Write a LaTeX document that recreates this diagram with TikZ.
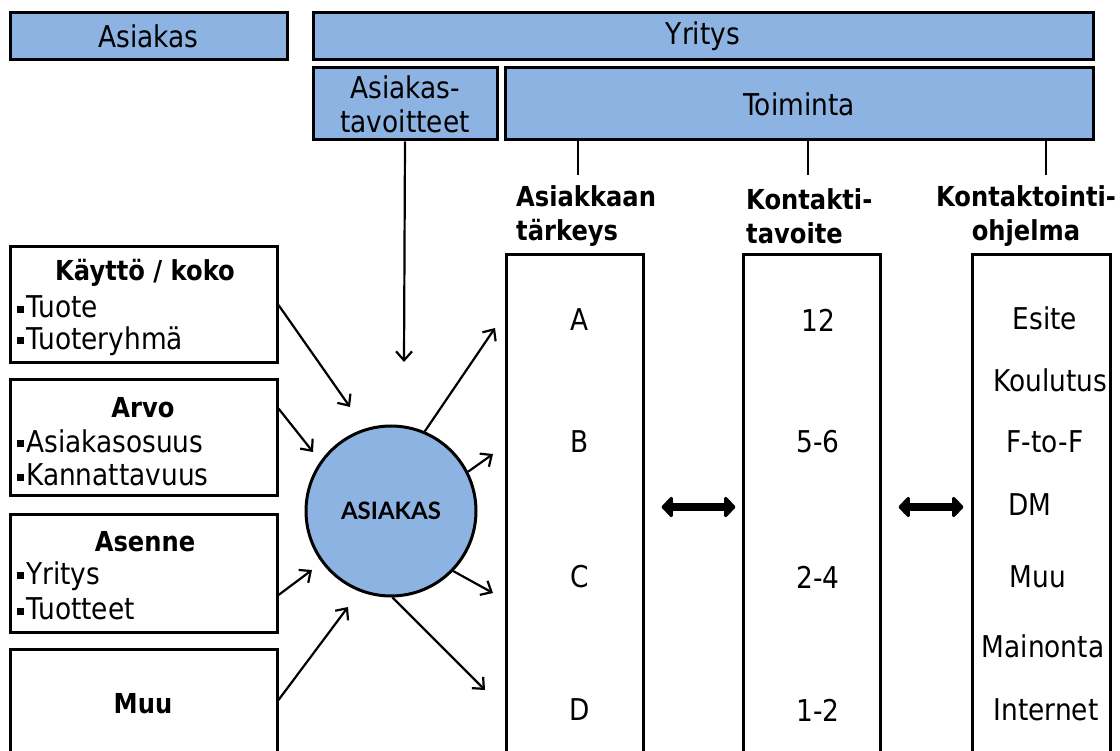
\documentclass[tikz,border=0pt]{standalone}
\usepackage{fontspec}
\setmainfont{DejaVu Sans}[FakeStretch=0.88]
\newfontfamily\circfont{Lato}
\usetikzlibrary{arrows.meta}
\definecolor{boxblue}{HTML}{8DB3E2}
\newcommand\myfs{\fontsize{30}{34}\selectfont}
\newcommand\mybfs{\fontsize{27.5}{34}\selectfont\bfseries}
\newcommand\bul{\rule[5pt]{7pt}{7pt}\hspace{2pt}}
\tikzset{
  hbox/.style={draw, line width=3pt, fill=boxblue, inner sep=0pt, font=\myfs},
  wbox/.style={draw, line width=3pt, fill=white, inner sep=0pt},
  txt/.style={inner sep=0pt, font=\myfs},
  btxt/.style={inner sep=0pt, font=\mybfs},
  arr/.style={line width=2.2pt, -{Straight Barb[length=9pt,width=16pt,line width=2.2pt]}},
  tick/.style={line width=2.2pt},
  dbl/.style={line width=8pt, {Triangle[length=12pt,width=24pt,round]}-{Triangle[length=12pt,width=24pt,round]}}
}
\begin{document}
\begin{tikzpicture}[x=1pt,y=-1pt]
\useasboundingbox (0,0) rectangle (1120,751);
% header boxes
\node[hbox, minimum width=277pt, minimum height=47pt] (asi) at (148.5,36.5) {Asiakas};
\node[hbox, minimum width=780pt, minimum height=47pt] (yri) at (703,36.5) {Yritys};
\node[hbox, minimum width=184pt, minimum height=72pt, align=center] (tav) at (405,104) {Asiakas-\\tavoitteet};
\node[hbox, minimum width=588pt, minimum height=72pt] (toi) at (799,104) {Toiminta};
% ticks
\coordinate (t1) at (578,175);
\coordinate (t2) at (808,175);
\coordinate (t3) at (1046,175);
\draw[tick] (toi.south -| t1) -- (t1);
\draw[tick] (toi.south -| t2) -- (t2);
\draw[tick] (toi.south -| t3) -- (t3);
% column headings
\node[btxt, anchor=west, align=left] (h1) at (516,216) {Asiakkaan\\tärkeys};
\node[btxt, anchor=west, align=left] (h2) at (746,216) {Kontakti-\\tavoite};
\node[btxt, align=center] (h3) at (1026,216) {Kontaktointi-\\ohjelma};
% columns
\node[wbox, minimum width=137pt, minimum height=525pt] (c1) at (574.5,517.5) {};
\node[wbox, minimum width=137pt, minimum height=525pt] (c2) at (811.5,517.5) {};
\node[wbox, minimum width=138pt, minimum height=525pt] (c3) at (1041,517.5) {};
\node[txt] (a) at (580,320) {A};
\node[txt] (b) at (580,442) {B};
\node[txt] (c) at (580,577) {C};
\node[txt] (d) at (580,710) {D};
\node[txt] (n12) at (818,320) {12};
\node[txt] (n56) at (818,442) {5-6};
\node[txt] (n24) at (818,577) {2-4};
\node[txt] (n12b) at (818,710) {1-2};
\node[txt] (p1) at (1045,318) {Esite};
\node[txt] (p2) at (1050,380) {Koulutus};
\node[txt] (p3) at (1045,442) {F-to-F};
\node[txt] (p4) at (1030,505) {DM};
\node[txt] (p5) at (1038,577) {Muu};
\node[txt] (p6) at (1043,646) {Mainonta};
\node[txt] (p7) at (1046,710) {Internet};
% double arrows
\coordinate (mid) at (0,507);
\draw[dbl, shorten <=17pt, shorten >=6pt] (c1.east |- mid) -- (c2.west |- mid);
\draw[dbl, shorten <=17pt, shorten >=7pt] (c2.east |- mid) -- (c3.west |- mid);
% left boxes
\node[wbox, minimum width=267pt, minimum height=116pt] (k) at (143.5,305) {};
\node[wbox, minimum width=267pt, minimum height=115pt] (v) at (143.5,437.5) {};
\node[wbox, minimum width=267pt, minimum height=118pt] (s) at (143.5,573) {};
\node[wbox, minimum width=267pt, minimum height=130pt] (m) at (143.5,714) {};
\node[btxt] (kt) at (145,273) {Käyttö / koko};
\node[txt, anchor=west] (k1) at (17,307) {\bul Tuote};
\node[txt, anchor=west] (k2) at (17,341) {\bul Tuoteryhmä};
\node[btxt] (vt) at (143,408) {Arvo};
\node[txt, anchor=west] (v1) at (17,441) {\bul Asiakasosuus};
\node[txt, anchor=west] (v2) at (17,475) {\bul Kannattavuus};
\node[btxt] (st) at (145,542) {Asenne};
\node[txt, anchor=west] (s1) at (17,576) {\bul Yritys};
\node[txt, anchor=west] (s2) at (17,609) {\bul Tuotteet};
\node[btxt] (mt) at (143,704) {Muu};
% customer circle
\node[circle, draw, line width=3pt, fill=boxblue, minimum size=170pt, inner sep=0pt, font=\circfont\fontsize{24}{28}\selectfont\bfseries] (cust) at (391,511) {ASIAKAS};
% arrows into circle
\coordinate (e0) at (404,362);
\coordinate (e1) at (350,407);
\coordinate (e2) at (313,452);
\coordinate (e3) at (312,570);
\coordinate (e4) at (348,607);
\draw[arr] (tav.south) -- (e0);
\draw[arr] (k.east) -- (e1);
\draw[arr] ([yshift=29pt]v.east) -- (e2);
\draw[arr] ([yshift=-22pt]s.east) -- (e3);
\draw[arr] ([yshift=14pt]m.east) -- (e4);
% arrows out of circle
\coordinate (o1) at (495,328);
\coordinate (o2) at (493,454);
\coordinate (o3) at (493,593);
\coordinate (o4) at (485,690);
\draw[arr] (cust.67) -- (o1);
\draw[arr] (cust.27) -- (o2);
\draw[arr] (cust.-44) -- (o3);
\draw[arr] (cust.-89) -- (o4);
\end{tikzpicture}
\end{document}
